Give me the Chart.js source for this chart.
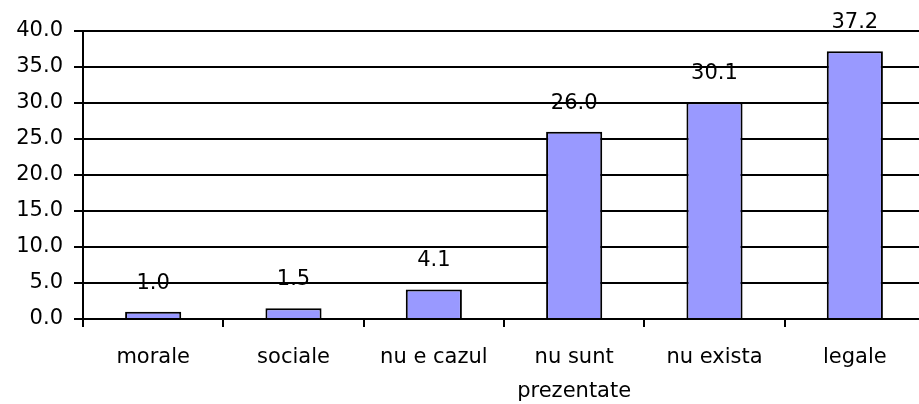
<!DOCTYPE html>
<html>
<head>
<meta charset="utf-8">
<script src="https://cdn.jsdelivr.net/npm/chart.js@4"></script>
<style>
    html, body { margin: 0; padding: 0; overflow: hidden; background: #fff; }
    canvas { display: block; }
</style>
</head>
<body>
<canvas id="barChart_motive" width="926" height="404"></canvas>
<script>
// chart data
var categories = ['morale', 'sociale', 'nu e cazul', ['nu sunt', 'prezentate'], 'nu exista', 'legale'];
var values = [1.0, 1.5, 4.1, 26.0, 30.1, 37.2];
var yTicks = [0, 5, 10, 15, 20, 25, 30, 35, 40];

var fontFamily = '"DejaVu Sans", "Liberation Sans", Arial, sans-serif';

// value labels above bars
var valueLabels = {
    id: 'valueLabels',
    afterDatasetsDraw: (chart) => {
        let ctx = chart.ctx
        ctx.save()
        ctx.font = '21px ' + fontFamily
        ctx.fillStyle = '#000'
        ctx.textAlign = 'center'
        ctx.textBaseline = 'bottom'
        chart.getDatasetMeta(0).data.forEach((bar, i) => {
            ctx.fillText(values[i].toFixed(1), bar.x, bar.y - 18)
        })
        ctx.restore()
    }
}

new Chart(document.querySelector('#barChart_motive'), {
    type: 'bar',
    data: {
        labels: categories,
        datasets: [{
            data: values,
            backgroundColor: '#9999FF',
            borderColor: '#000',
            borderWidth: 2,
            borderSkipped: 'bottom',
            barPercentage: 0.4,
            categoryPercentage: 1
        }]
    },
    options: {
        responsive: false,
        animation: false,
        devicePixelRatio: 1,
        layout: {
            padding: { top: 31, right: 1, left: 0, bottom: 0 }
        },
        scales: {
            y: {
                min: 0,
                max: 40,
                afterBuildTicks: (scale) => {
                    scale.ticks = yTicks.map(v => ({ value: v }))
                },
                afterFit: (scale) => { scale.width = 83 },
                border: { color: '#000', width: 2 },
                grid: {
                    color: '#000',
                    lineWidth: 2,
                    tickLength: 9,
                    tickColor: '#000'
                },
                ticks: {
                    color: '#000',
                    padding: 11,
                    font: { family: fontFamily, size: 21 },
                    callback: (v) => v.toFixed(1)
                }
            },
            x: {
                afterFit: (scale) => { scale.height = 85 },
                border: { color: '#000', width: 2 },
                grid: {
                    offset: true,
                    drawOnChartArea: false,
                    color: '#000',
                    lineWidth: 2,
                    tickLength: 8
                },
                ticks: {
                    color: '#000',
                    padding: 14,
                    maxRotation: 0,
                    autoSkip: false,
                    font: { family: fontFamily, size: 21, lineHeight: 1.6 }
                }
            }
        },
        plugins: {
            legend: { display: false },
            tooltip: { enabled: false }
        }
    },
    plugins: [valueLabels]
});
</script>
</body>
</html>
